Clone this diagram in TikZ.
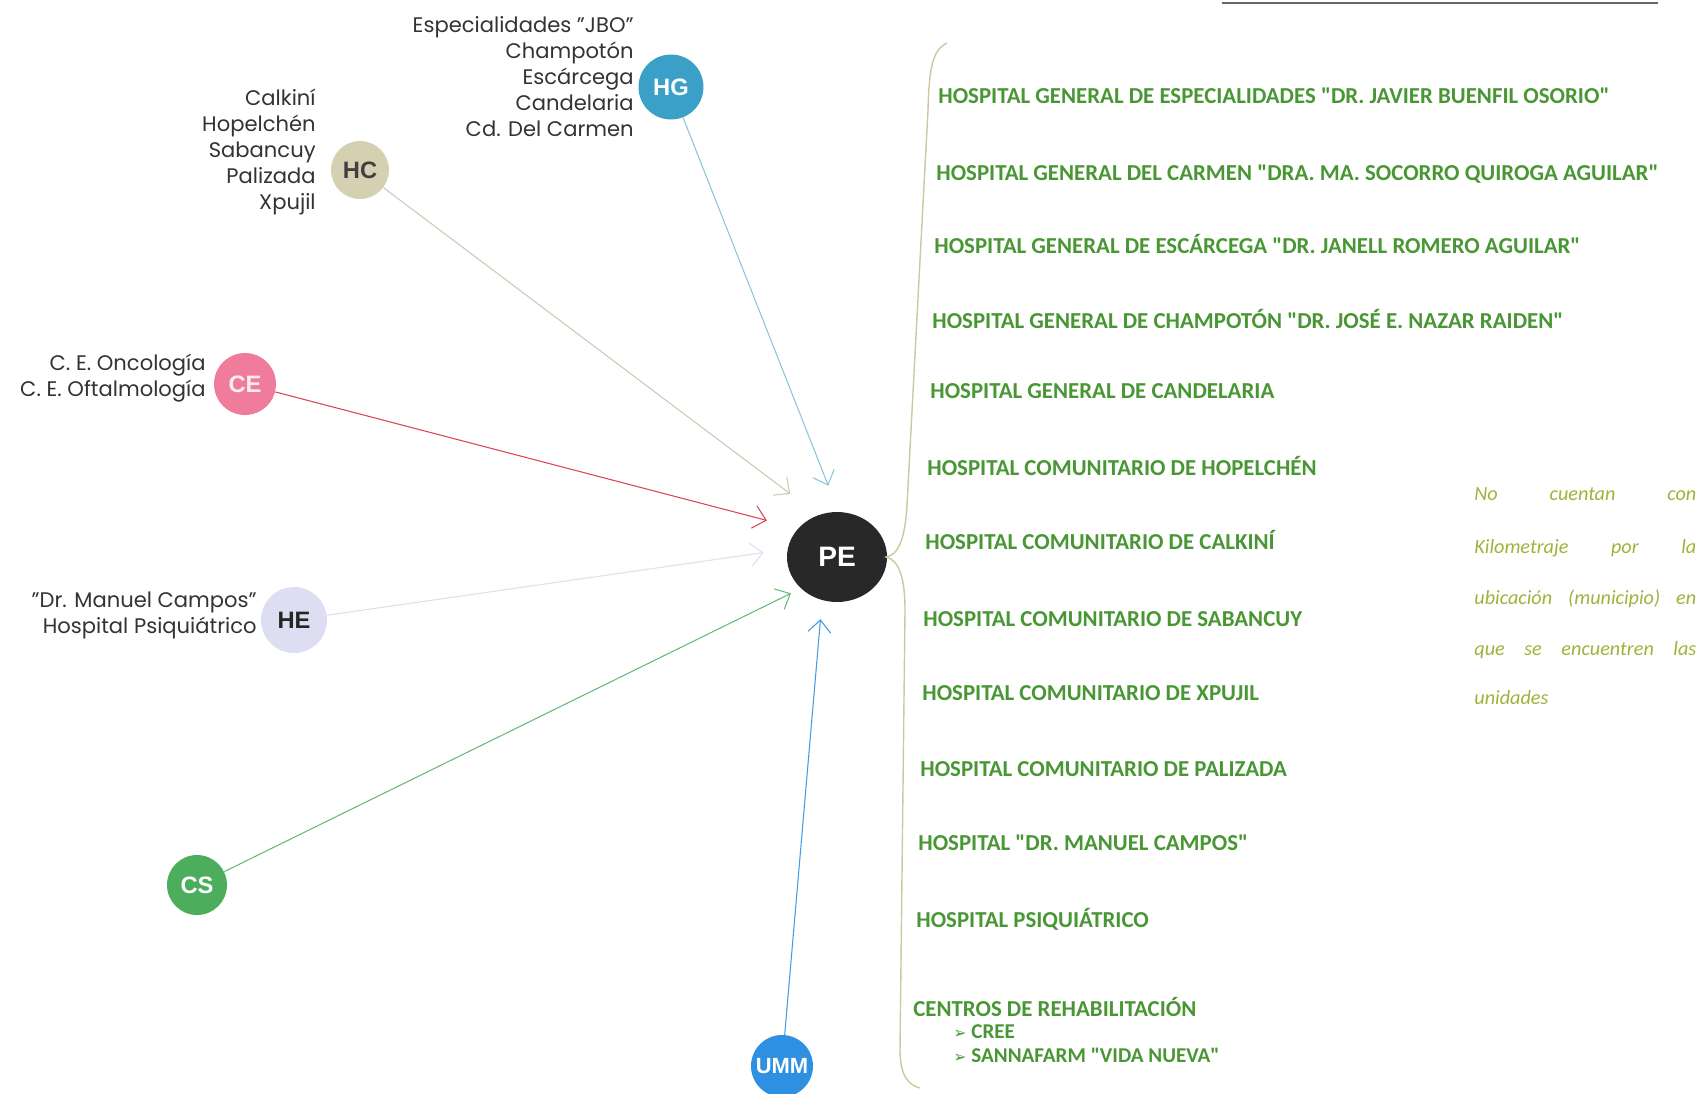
\documentclass[tikz,border=0pt]{standalone}
\usepackage{fontspec}
\setmainfont{Poppins}
\newfontfamily\labelfont{Liberation Sans}
\newfontfamily\listfont{Carlito}
\newfontfamily\symbolfont{DejaVu Sans}
\usetikzlibrary{arrows.meta,shapes.geometric}

\definecolor{hgblue}{RGB}{58,160,200}
\definecolor{hctan}{RGB}{214,208,178}
\definecolor{cepink}{RGB}{240,124,156}
\definecolor{helav}{RGB}{222,222,242}
\definecolor{csgreen}{RGB}{76,174,92}
\definecolor{ummblue}{RGB}{46,144,224}
\definecolor{pedark}{RGB}{40,40,40}
\definecolor{listgreen}{RGB}{72,150,52}
\definecolor{notegreen}{RGB}{160,178,60}
\definecolor{bracetan}{RGB}{205,200,160}

\tikzset{
  unit/.style={circle, inner sep=0pt, minimum size=#1, font=\labelfont\bfseries\fontsize{13.5}{14}\selectfont},
  places/.style={anchor=east, align=right, inner sep=0pt, text=black!80, font=\fontsize{12}{14.8}\selectfont},
  hosp/.style={anchor=base west, inner sep=0pt, text=listgreen, font=\listfont\bfseries\fontsize{13}{15}\selectfont},
  subhosp/.style={hosp, text height=8pt, text depth=0pt, font=\listfont\bfseries\fontsize{12}{14}\selectfont},
  note/.style={anchor=base west, inner sep=0pt, text=notegreen, font=\listfont\itshape\fontsize{11.5}{14}\selectfont},
  link/.style={-{Straight Barb[length=7pt,width=13pt]}, line width=0.6pt},
}

\begin{document}
\begin{tikzpicture}[x=0.02cm, y=-0.02cm]
    \useasboundingbox (0,0) rectangle (1699,1093);
    \draw[black!60, line width=1.2pt] (1222,3) -- (1658,3);

    \node[ellipse, fill=pedark, text=white, minimum width=2cm, minimum height=1.8cm, inner sep=0pt,
          font=\labelfont\bfseries\fontsize{16}{18}\selectfont] (PE) at (837,557) {PE};
    \node[unit=1.3cm, fill=hgblue, text=white] (HG) at (671,87) {HG};
    \node[unit=1.16cm, fill=hctan, text=black!75] (HC) at (360,170) {HC};
    \node[unit=1.24cm, fill=cepink, text=pink!30] (CE) at (245,384) {CE};
    \node[unit=1.32cm, fill=helav, text=black!85] (HE) at (294,620) {HE};
    \node[unit=1.2cm, fill=csgreen, text=white] (CS) at (197,885) {CS};
    \node[unit=1.24cm, fill=ummblue, text=white, font=\labelfont\bfseries\fontsize{12.5}{14}\selectfont] (UMM) at (782,1066) {UMM};

    \node[places] (hglist) at (634,77) {Especialidades "JBO"\\Champotón\\Escárcega\\Candelaria\\Cd. Del Carmen};
    \node[places] (hclist) at (316,152) {Calkiní\\Hopelchén\\Sabancuy\\Palizada\\Xpujil};
    \node[places] (celist) at (206,378) {C. E. Oncología\\C. E. Oftalmología};
    \node[places] (helist) at (257,615) {"Dr. Manuel Campos"\\Hospital Psiquiátrico};

    \draw[link, hgblue!60, shorten >=0.56cm] (HG) -- (PE.88);
    \draw[link, black!15!hctan!70, shorten >=0.7cm] (HC) -- (PE.114);
    \draw[link, cepink!60!red!90!black, shorten >=0.64cm] (CE) -- (PE.144);
    \draw[link, helav, shorten >=0.48cm] (HE) -- (PE.171);
    \draw[link, csgreen!85, shorten >=0.22cm] (CS) -- (PE.221);
    \draw[link, ummblue!90, shorten >=0.38cm] (UMM) -- (PE.251);

    \draw[bracetan, line width=0.8pt] (947,43) .. controls (932,50) and (929,70) .. (928,110) -- (907,505)
        .. controls (905,540) and (898,555) .. (886,557) .. controls (898,560) and (905,575) .. (905,610)
        -- (900,1050) .. controls (900,1075) and (908,1085) .. (920,1088);

    \node[hosp] (h1) at (938,103) {HOSPITAL GENERAL DE ESPECIALIDADES "DR. JAVIER BUENFIL OSORIO"};
    \node[hosp] (h2) at (936,180) {HOSPITAL GENERAL DEL CARMEN "DRA. MA. SOCORRO QUIROGA AGUILAR"};
    \node[hosp] (h3) at (934,253) {HOSPITAL GENERAL DE ESCÁRCEGA "DR. JANELL ROMERO AGUILAR"};
    \node[hosp] (h4) at (932,328) {HOSPITAL GENERAL DE CHAMPOTÓN "DR. JOSÉ E. NAZAR RAIDEN"};
    \node[hosp] (h5) at (930,398) {HOSPITAL GENERAL DE CANDELARIA};
    \node[hosp] (h6) at (927,475) {HOSPITAL COMUNITARIO DE HOPELCHÉN};
    \node[hosp] (h7) at (925,549) {HOSPITAL COMUNITARIO DE CALKINÍ};
    \node[hosp] (h8) at (923,626) {HOSPITAL COMUNITARIO DE SABANCUY};
    \node[hosp] (h9) at (922,700) {HOSPITAL COMUNITARIO DE XPUJIL};
    \node[hosp] (h10) at (920,776) {HOSPITAL COMUNITARIO DE PALIZADA};
    \node[hosp] (h11) at (918,850) {HOSPITAL "DR. MANUEL CAMPOS"};
    \node[hosp] (h12) at (916,927) {HOSPITAL PSIQUIÁTRICO};
    \node[hosp] (centros) at (913,1016) {CENTROS DE REHABILITACIÓN};
    \node[subhosp] (cree) at (953,1038) {{\symbolfont\fontsize{9}{10}\selectfont ➢} CREE};
    \node[subhosp] (sanna) at (953,1062) {{\symbolfont\fontsize{9}{10}\selectfont ➢} SANNAFARM "VIDA NUEVA"};

    \node[note] (n1) at (1474,500) {\makebox[4.44cm][s]{No cuentan con}};
    \node[note] (n2) at (1474,553) {\makebox[4.44cm][s]{Kilometraje por la}};
    \node[note] (n3) at (1474,604) {\makebox[4.44cm][s]{ubicación (municipio) en}};
    \node[note] (n4) at (1474,655) {\makebox[4.44cm][s]{que se encuentren las}};
    \node[note] (n5) at (1474,704) {unidades};
\end{tikzpicture}
\end{document}
